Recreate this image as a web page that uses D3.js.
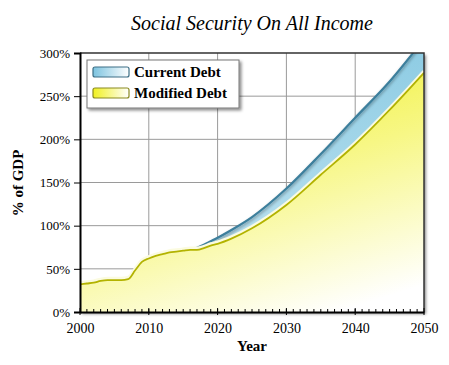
<!DOCTYPE html>
<html>
<head>
<meta charset="utf-8">
<script src="https://d3js.org/d3.v7.min.js"></script>
<style>
  body { margin: 0; background: white; }
  svg text { font-family: "Liberation Serif", "DejaVu Serif", serif; }
</style>
</head>
<body>
<svg id="svg" width="449" height="365"></svg>
<script>
// values (% of GDP)
var years    = [2000, 2001, 2002, 2003, 2004, 2005, 2006, 2007, 2008, 2009, 2010, 2011, 2012, 2013, 2014, 2015, 2016, 2017, 2018, 2019, 2020, 2022, 2025, 2030, 2035, 2040, 2045, 2050];
var modified = [32, 33, 34, 36, 37, 37, 37, 38, 48, 58, 62, 65, 67, 69, 70, 71, 72, 72, 74, 77, 79, 85, 97, 124, 159, 194, 234, 277];
var current  = [32, 33, 34, 36, 37, 37, 37, 38, 48, 58, 62, 65, 67, 69, 70, 71, 72.5, 74.5, 78, 82, 86, 95, 110, 143, 183, 225, 267, 316];
var xTicks = [2000, 2010, 2020, 2030, 2040, 2050];
var yTicks = [0, 50, 100, 150, 200, 250, 300];
var seriesNames = ["Current Debt", "Modified Debt"];

const svg = d3.select('#svg');
var pLeft = 80, pRight = 424, pTop = 53, pBottom = 312;

var x = d3.scaleLinear().domain([2000, 2050]).range([pLeft, pRight]);
var y = d3.scaleLinear().domain([0, 300]).range([pBottom, pTop]);

var defs = svg.append("defs");

var gy = defs.append("linearGradient").attr("id", "gYellow")
  .attr("x1", 0.3).attr("y1", 0).attr("x2", 0.75).attr("y2", 1);
gy.append("stop").attr("offset", "0%").attr("stop-color", "#f0f030");
gy.append("stop").attr("offset", "45%").attr("stop-color", "#f7f785");
gy.append("stop").attr("offset", "100%").attr("stop-color", "#ffffff");

var gb = defs.append("linearGradient").attr("id", "gBlue")
  .attr("x1", 0).attr("y1", 0).attr("x2", 0).attr("y2", 1);
gb.append("stop").attr("offset", "0%").attr("stop-color", "#8ccbe3");
gb.append("stop").attr("offset", "100%").attr("stop-color", "#c6e6f2");

var gbl = defs.append("linearGradient").attr("id", "gBlueLeg")
  .attr("x1", 0).attr("y1", 0).attr("x2", 1).attr("y2", 0);
gbl.append("stop").attr("offset", "0%").attr("stop-color", "#7cc3df");
gbl.append("stop").attr("offset", "100%").attr("stop-color", "#ffffff");

var gyl = defs.append("linearGradient").attr("id", "gYellowLeg")
  .attr("x1", 0).attr("y1", 0).attr("x2", 1).attr("y2", 0);
gyl.append("stop").attr("offset", "0%").attr("stop-color", "#f0f020");
gyl.append("stop").attr("offset", "100%").attr("stop-color", "#ffffff");

var shadow = defs.append("filter").attr("id", "shadow")
  .attr("x", "-10%").attr("y", "-10%").attr("width", "130%").attr("height", "130%");
shadow.append("feDropShadow").attr("dx", 2).attr("dy", 2).attr("stdDeviation", 1.5)
  .attr("flood-color", "#000").attr("flood-opacity", 0.45);

var edgeShadow = defs.append("filter").attr("id", "edgeShadow")
  .attr("x", "-5%").attr("y", "-5%").attr("width", "110%").attr("height", "110%");
edgeShadow.append("feDropShadow").attr("dx", 0).attr("dy", 2).attr("stdDeviation", 1.5)
  .attr("flood-color", "#000").attr("flood-opacity", 0.35);

defs.append("clipPath").attr("id", "plotClip")
  .append("rect").attr("x", pLeft).attr("y", pTop).attr("width", pRight - pLeft).attr("height", pBottom - pTop);

// frame shadow
svg.append("rect")
  .attr("x", pLeft).attr("y", pTop).attr("width", pRight - pLeft).attr("height", pBottom - pTop)
  .attr("fill", "white").attr("filter", "url(#shadow)");

// grid
svg.append("g").selectAll("line").data(xTicks.slice(1, -1)).join("line")
  .attr("x1", d => x(d)).attr("x2", d => x(d)).attr("y1", pTop).attr("y2", pBottom)
  .attr("stroke", "#9a9a9a").attr("stroke-width", 1);
svg.append("g").selectAll("line").data(yTicks.slice(1, -1)).join("line")
  .attr("x1", pLeft).attr("x2", pRight).attr("y1", d => y(d)).attr("y2", d => y(d))
  .attr("stroke", "#9a9a9a").attr("stroke-width", 1);

var dataCur = years.map((d, i) => [d, current[i]]);
var dataMod = years.map((d, i) => [d, modified[i]]);

var area = d3.area().x(d => x(d[0])).y0(y(0)).y1(d => y(d[1])).curve(d3.curveMonotoneX);
var line = d3.line().x(d => x(d[0])).y(d => y(d[1])).curve(d3.curveMonotoneX);

var plot = svg.append("g").attr("clip-path", "url(#plotClip)");

plot.append("path").datum(dataCur).attr("d", area).attr("fill", "url(#gBlue)");
plot.append("path").datum(dataCur).attr("d", line)
  .attr("fill", "none").attr("stroke", "#3d7f9c").attr("stroke-width", 2.2).attr("filter", "url(#edgeShadow)");

plot.append("path").datum(dataMod).attr("d", area).attr("fill", "url(#gYellow)")
  .attr("filter", "url(#edgeShadow)");
plot.append("path").datum(dataMod).attr("d", line)
  .attr("fill", "none").attr("stroke", "#fbfbe0").attr("stroke-width", 3.5).attr("transform", "translate(0,-1.5)");
plot.append("path").datum(dataMod).attr("d", line)
  .attr("fill", "none").attr("stroke", "#b3b300").attr("stroke-width", 1.8);

// frame: top and right
svg.append("path")
  .attr("d", `M${pLeft},${pTop}H${pRight}V${pBottom}`)
  .attr("fill", "none").attr("stroke", "#333").attr("stroke-width", 1.5);

// axes
var xAxis = svg.append("g").attr("transform", `translate(0,${pBottom})`)
  .call(d3.axisBottom(x).tickValues(xTicks).tickFormat(d3.format("d")).tickSize(0).tickPadding(11));
xAxis.select(".domain").attr("stroke", "#000").attr("stroke-width", 2);
xAxis.selectAll("text").attr("font-size", 14).attr("fill", "#000")
  .attr("font-family", "Liberation Serif");

svg.append("g").selectAll("line").data(d3.range(2001, 2050)).join("line")
  .attr("x1", d => x(d)).attr("x2", d => x(d)).attr("y1", pBottom - 3).attr("y2", pBottom)
  .attr("stroke", "#000").attr("stroke-width", 1);
svg.append("g").selectAll("line").data(xTicks).join("line")
  .attr("x1", d => x(d)).attr("x2", d => x(d)).attr("y1", pBottom - 4).attr("y2", pBottom + 3)
  .attr("stroke", "#000").attr("stroke-width", 1);

var yAxis = svg.append("g").attr("transform", `translate(${pLeft},0)`)
  .call(d3.axisLeft(y).tickValues(yTicks).tickFormat(d => d + "%").tickSize(6).tickPadding(4));
yAxis.select(".domain").attr("stroke", "#000").attr("stroke-width", 2);
yAxis.selectAll(".tick line").attr("stroke", "#000");
yAxis.selectAll("text").attr("font-size", 13).attr("fill", "#000")
  .attr("font-family", "Liberation Serif");

// titles
svg.append("text").attr("x", 252).attr("y", 30).attr("text-anchor", "middle")
  .attr("font-family", "Liberation Serif")
  .attr("font-size", 20).attr("font-style", "italic").text("Social Security On All Income");
svg.append("text").attr("x", 252).attr("y", 351).attr("text-anchor", "middle")
  .attr("font-size", 15).attr("font-weight", "bold").text("Year");
svg.append("text").attr("transform", "translate(23,183) rotate(-90)").attr("text-anchor", "middle")
  .attr("font-size", 15).attr("font-weight", "bold").text("% of GDP");

// legend
var leg = svg.append("g");
leg.append("rect").attr("x", 87).attr("y", 60).attr("width", 152).attr("height", 48)
  .attr("fill", "white").attr("stroke", "#777").attr("stroke-width", 1).attr("filter", "url(#shadow)");
var legFills = ["url(#gBlueLeg)", "url(#gYellowLeg)"];
var legStroke = ["#3d6f86", "#8a8a20"];
seriesNames.forEach(function(name, i) {
  var cy = 72 + i * 21;
  leg.append("rect").attr("x", 93).attr("y", cy - 5).attr("width", 36).attr("height", 10)
    .attr("rx", 2).attr("fill", legFills[i]).attr("stroke", legStroke[i]).attr("stroke-width", 1.2);
  leg.append("text").attr("x", 134).attr("y", cy + 5).attr("font-size", 15).attr("font-weight", "bold")
    .text(name);
});
</script>
</body>
</html>
